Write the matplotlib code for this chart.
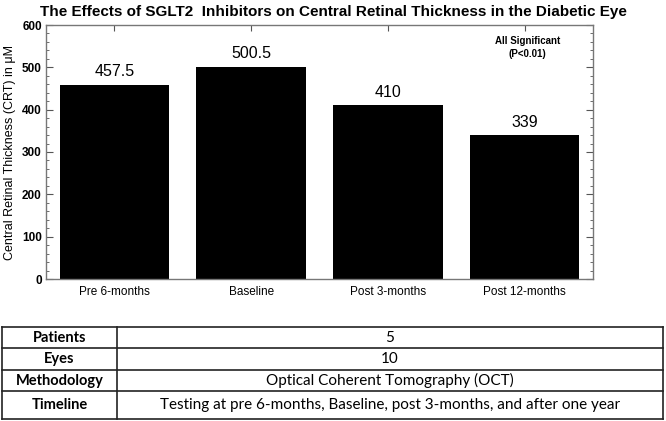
import matplotlib
matplotlib.use("Agg")
import matplotlib.pyplot as plt
from matplotlib.ticker import MultipleLocator

categories = ["Pre 6-months", "Baseline", "Post 3-months", "Post 12-months"]
values = [457.5, 500.5, 410, 339]
value_labels = ["457.5", "500.5", "410", "339"]
title = "The Effects of SGLT2  Inhibitors on Central Retinal Thickness in the Diabetic Eye"
ylabel = "Central Retinal Thickness (CRT) in \u03bcM"
note = "All Significant\n(P<0.01)"
table_rows = ["Patients", "Eyes", "Methodology", "Timeline"]
table_vals = ["5", "10", "Optical Coherent Tomography (OCT)",
              "Testing at pre 6-months, Baseline, post 3-months, and after one year"]

plt.rcParams['font.family'] = ['Liberation Sans', 'DejaVu Sans']
W, H = 666, 421
fig = plt.figure(figsize=(W/100, H/100), dpi=100)

# axes: x 46-593, y 25-279
ax = fig.add_axes([46/W, 1-279/H, (593-46)/W, (279-25)/H])
x = list(range(len(categories)))
ax.bar(x, values, width=0.8, color='black')
ax.set_xlim(-0.5, 3.5)
ax.set_ylim(0, 600)
ax.set_xticks(x)
ax.set_xticklabels(categories, fontsize=8.5)
ax.yaxis.set_major_locator(MultipleLocator(100))
ax.yaxis.set_minor_locator(MultipleLocator(20))
ax.tick_params(axis='y', which='major', direction='in', length=5, labelsize=8.5,
               left=True, right=True, width=0.8, color='#555555', pad=3)
ax.tick_params(axis='y', which='minor', direction='in', length=2.5,
               left=True, right=True, width=0.6, color='#555555')
ax.tick_params(axis='x', which='major', direction='in', length=4, top=True, bottom=False,
               width=0.8, color='#555555', pad=5)
for lbl in ax.get_yticklabels():
    lbl.set_fontweight('bold')
for s in ax.spines.values():
    s.set_color('#777777')
    s.set_linewidth(1.0)
for xi, v, t in zip(x, values, value_labels):
    ax.text(xi, v + 14, t, ha='center', va='bottom', fontsize=11.5)
ax.set_ylabel(ylabel, fontsize=9)
ax.yaxis.set_label_coords(-0.054, 0.5)
ax.text(0.88, 0.955, note, transform=ax.transAxes, ha='center', va='top',
        fontsize=7, fontweight='bold', linespacing=1.35)
fig.text(0.5, 1-12/H, title, ha='center', va='center', fontsize=11, fontweight='bold')

# table
tax = fig.add_axes([0, 0, 1, 1])
tax.set_xlim(0, W)
tax.set_ylim(H, 0)
tax.axis('off')
left, mid, right = 2, 117, 663
row_edges = [327, 348, 370, 391, 419]
tfont = ['Lato', 'DejaVu Sans']
for xs in (left, mid, right):
    tax.plot([xs, xs], [row_edges[0], row_edges[-1]], color='#222222', lw=1.2)
for ys in row_edges:
    tax.plot([left, right], [ys, ys], color='#222222', lw=1.2)
for i, (r, v) in enumerate(zip(table_rows, table_vals)):
    yc = (row_edges[i] + row_edges[i+1]) / 2
    tax.text((left+mid)/2, yc, r, ha='center', va='center', fontsize=10.5,
             fontweight='bold', family=tfont)
    tax.text((mid+right)/2, yc, v, ha='center', va='center', fontsize=11, family=tfont)

fig.savefig("out.png", dpi=100)
